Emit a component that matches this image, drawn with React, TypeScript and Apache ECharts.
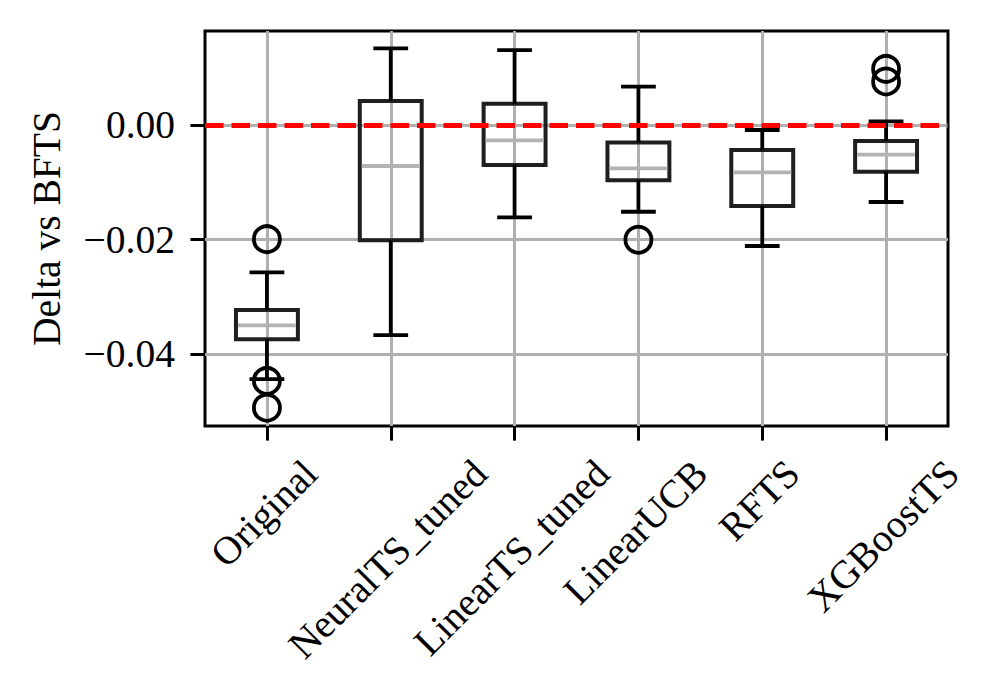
import React, { useEffect, useRef } from 'react';
import * as echarts from 'echarts';

const categories = ['Original', 'NeuralTS_tuned', 'LinearTS_tuned', 'LinearUCB', 'RFTS', 'XGBoostTS'];
const lowerWhisker = [-0.0444, -0.0367, -0.0161, -0.0151, -0.0211, -0.0134];
const q1 = [-0.0374, -0.0201, -0.0069, -0.0096, -0.0141, -0.0081];
const medians = [-0.035, -0.0071, -0.0026, -0.0075, -0.0082, -0.0051];
const q3 = [-0.0323, 0.0043, 0.0038, -0.003, -0.0043, -0.0027];
const upperWhisker = [-0.0257, 0.0135, 0.0132, 0.0068, -0.0008, 0.0007];
const outlierCategory = [0, 0, 0, 3, 5, 5];
const outlierValues = [-0.0199, -0.0447, -0.0494, -0.02, 0.0099, 0.0077];
const yTicks = [-0.04, -0.02, 0];
const referenceValue = 0;

const FONT = 'Liberation Serif';
const FS = 39.5;

function measure(text: string): number {
  const ctx = document.createElement('canvas').getContext('2d');
  if (!ctx) return text.length * FS * 0.5;
  ctx.font = `${FS}px "${FONT}"`;
  return ctx.measureText(text).width;
}

export default function App() {
  const ref = useRef<HTMLDivElement>(null);
  useEffect(() => {
    if (!ref.current) return;
    const chart = echarts.init(ref.current, null, { renderer: 'svg' });
    const xPositions = categories.map((_, i) => i + 1);
    const rich: any = {};
    categories.forEach((c, i) => {
      const p = measure(c) / 2;
      rich['l' + i] = { fontFamily: FONT, fontSize: FS, color: '#000', padding: [p - 4, p + 4, 0, 0] };
    });
    const boxData = categories.map((_, i) => [i + 1, lowerWhisker[i], q1[i], medians[i], q3[i], upperWhisker[i]]);
    const outlierData = outlierCategory.map((c, i) => [c + 1, outlierValues[i]]);

    const option: any = {
      animation: false,
      backgroundColor: '#fff',
      grid: {
        left: 205, right: 50, top: 31, bottom: 270,
        show: true, borderColor: '#000', borderWidth: 3, backgroundColor: 'transparent',
        containLabel: false, outerBoundsMode: 'none',
      },
      xAxis: {
        type: 'value', min: 0.5, max: 6.5,
        axisLine: { show: false, onZero: false },
        axisTick: { show: true, length: 14.6, lineStyle: { color: '#000', width: 3 }, customValues: xPositions },
        axisLabel: {
          customValues: xPositions, rotate: 45, align: 'center', verticalAlign: 'middle', margin: 41,
          hideOverlap: false,
          formatter: (v: number) => `{l${Math.round(v) - 1}|${categories[Math.round(v) - 1]}}`,
          rich,
        },
        splitLine: { show: true, lineStyle: { color: '#b0b0b0', width: 3 } },
      },
      yAxis: {
        type: 'value', min: -0.0526, max: 0.01653,
        axisLine: { show: false, onZero: false },
        axisTick: { show: true, length: 14.6, lineStyle: { color: '#000', width: 3 }, customValues: yTicks },
        axisLabel: {
          customValues: yTicks, margin: 30, fontFamily: FONT, fontSize: FS, color: '#000',
          formatter: (v: number) => (Math.abs(v) < 1e-9 ? '0.00' : (v < 0 ? '\u2212' : '') + Math.abs(v).toFixed(2)),
        },
        splitLine: { show: true, lineStyle: { color: '#b0b0b0', width: 3 } },
        name: 'Delta vs BFTS', nameLocation: 'middle', nameGap: 138,
        nameTextStyle: { fontFamily: FONT, fontSize: FS, color: '#000' },
      },
      series: [
        {
          type: 'custom',
          data: boxData,
          encode: { x: 0, y: [1, 2, 3, 4, 5] },
          renderItem: (params: any, api: any) => {
            const x = api.value(0);
            const lo = api.coord([x, api.value(1)]);
            const b1 = api.coord([x, api.value(2)]);
            const md = api.coord([x, api.value(3)]);
            const b3 = api.coord([x, api.value(4)]);
            const hi = api.coord([x, api.value(5)]);
            const bw = api.size([0.5, 0])[0];
            const cw = api.size([0.25, 0])[0];
            const cx = lo[0];
            const wStyle = { stroke: '#000', lineWidth: 3.8, lineCap: 'butt' };
            const capStyle = { stroke: '#000', lineWidth: 3.8, lineCap: 'square' };
            return {
              type: 'group',
              children: [
                { type: 'rect', shape: { x: cx - bw / 2, y: b3[1], width: bw, height: b1[1] - b3[1] }, style: { stroke: '#1f1f1f', lineWidth: 4, fill: 'none' } },
                { type: 'line', shape: { x1: cx - bw / 2 + 2, y1: md[1], x2: cx + bw / 2 - 2, y2: md[1] }, style: { stroke: '#b3b3b3', lineWidth: 3.8 } },
                { type: 'line', shape: { x1: cx, y1: b1[1], x2: cx, y2: lo[1] }, style: wStyle },
                { type: 'line', shape: { x1: cx, y1: b3[1], x2: cx, y2: hi[1] }, style: wStyle },
                { type: 'line', shape: { x1: cx - cw / 2, y1: lo[1], x2: cx + cw / 2, y2: lo[1] }, style: capStyle },
                { type: 'line', shape: { x1: cx - cw / 2, y1: hi[1], x2: cx + cw / 2, y2: hi[1] }, style: capStyle },
              ],
            };
          },
          z: 3,
        },
        {
          type: 'scatter',
          data: outlierData,
          symbol: 'circle',
          symbolSize: 26,
          itemStyle: { color: 'rgba(0,0,0,0)', borderColor: '#000', borderWidth: 3.8, opacity: 1 },
          z: 4,
        },
        {
          type: 'line',
          data: [],
          z: 5,
          markLine: {
            silent: true,
            symbol: ['none', 'none'],
            label: { show: false },
            lineStyle: { color: '#ff0000', width: 5, type: [18.5, 8] },
            data: [{ yAxis: referenceValue }],
          },
        },
      ],
    };
    chart.setOption(option);
    return () => chart.dispose();
  }, []);
  return <div ref={ref} style={{ position: 'fixed', left: 0, top: 0, width: 998, height: 696, background: '#fff' }} />;
}
